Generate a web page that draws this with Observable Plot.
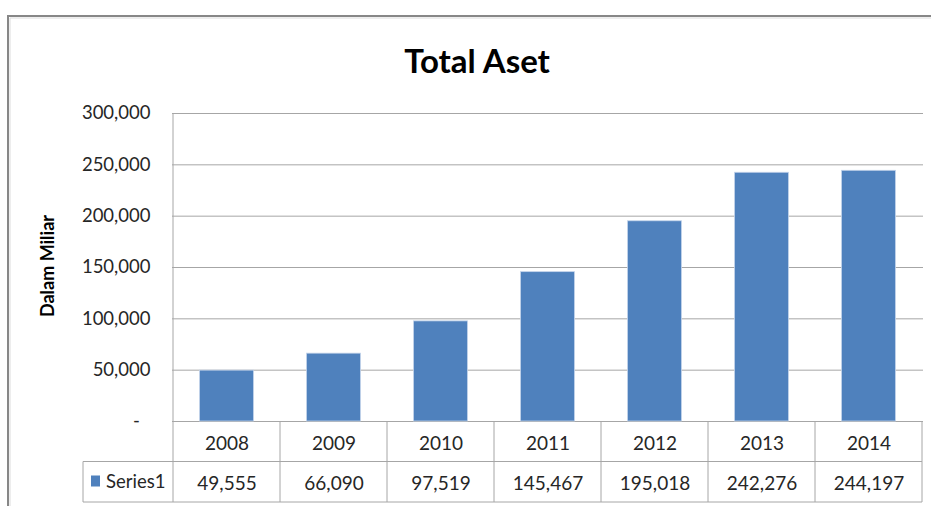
<!DOCTYPE html>
<html>
<head>
<meta charset="utf-8">
<script src="https://cdn.jsdelivr.net/npm/d3@7"></script>
<script src="https://cdn.jsdelivr.net/npm/@observablehq/plot@0.6"></script>
<style>
  html, body { margin: 0; padding: 0; background: #fff; }
</style>
</head>
<body>
<div id="chart"></div>
<script>
const years = ["2008", "2009", "2010", "2011", "2012", "2013", "2014"];
const values = [49555, 66090, 97519, 145467, 195018, 242276, 244197];
const yTicks = [0, 50000, 100000, 150000, 200000, 250000, 300000];
const seriesName = "Series1";
const titleText = "Total Aset";
const yLabelText = "Dalam Miliar";

const data = years.map((year, i) => ({year, value: values[i]}));
const fmt = d3.format(",");
const W = 931, H = 506;
const ML = 172, MR = 8, MT = 113, MB = 85;
const gridColor = "#a6a6a6";
const textColor = "#262626";
const barColor = "#4F81BD";

const plot = Plot.plot({
  width: W,
  height: H,
  marginLeft: ML,
  marginRight: MR,
  marginTop: MT,
  marginBottom: MB,
  style: {fontFamily: "Lato, 'Open Sans', sans-serif", fontSize: "18.5px", color: textColor, background: "white", overflow: "visible"},
  x: {domain: years, padding: 0, axis: null},
  y: {
    domain: [0, 300000],
    ticks: yTicks,
    tickFormat: d => d === 0 ? "-\u2007" : fmt(d),
    tickSize: 0,
    tickPadding: 22,
    label: null,
    line: false
  },
  marks: [
    Plot.ruleY(yTicks, {stroke: gridColor, strokeWidth: 1}),
    Plot.barY(data, {x: "year", y: "value", fill: barColor, stroke: "#c4d4ea", strokeWidth: 0.8, insetLeft: 26.5, insetRight: 26.5}),
    Plot.text(data, {x: "year", text: "year", frameAnchor: "bottom", dy: 22, lineAnchor: "middle", fill: textColor, fontSize: 19}),
    Plot.text(data, {x: "year", text: d => fmt(d.value), frameAnchor: "bottom", dy: 62, lineAnchor: "middle", fill: textColor, fontSize: 19})
  ]
});

document.getElementById("chart").appendChild(plot);

const svg = d3.select(plot);
const xs = plot.scale("x");
const ys = plot.scale("y");
const bw = xs.bandwidth;
const left = xs.apply(years[0]);
const right = xs.apply(years[years.length - 1]) + bw;
const y0 = ys.apply(0);
const yTop = ys.apply(300000);
const rowH = 40.5;

const g = svg.append("g").attr("fill", "none").attr("stroke", gridColor).attr("stroke-width", 1);
// plot-area left edge
g.append("line").attr("x1", left).attr("x2", left).attr("y1", yTop).attr("y2", y0 + 2 * rowH);
// table vertical lines
years.forEach((yr, i) => {
  const xr = xs.apply(yr) + bw;
  g.append("line").attr("x1", xr).attr("x2", xr).attr("y1", y0).attr("y2", y0 + 2 * rowH);
});
// table horizontal lines
const legendLeft = 83;
g.append("line").attr("x1", legendLeft).attr("x2", right).attr("y1", y0 + rowH).attr("y2", y0 + rowH);
g.append("line").attr("x1", legendLeft).attr("x2", right).attr("y1", y0 + 2 * rowH).attr("y2", y0 + 2 * rowH);
g.append("line").attr("x1", legendLeft).attr("x2", legendLeft).attr("y1", y0 + rowH).attr("y2", y0 + 2 * rowH);

// legend key
svg.append("rect").attr("x", 91).attr("y", y0 + rowH + 14).attr("width", 9).attr("height", 11).attr("fill", barColor);
svg.append("text").attr("x", 106).attr("y", y0 + rowH + 20).attr("dy", "0.35em").attr("text-anchor", "start")
  .attr("font-family", "Lato, sans-serif").attr("font-size", 18.5).attr("fill", textColor).text(seriesName);

// title
svg.append("text").attr("x", 477).attr("y", 73).attr("text-anchor", "middle")
  .attr("font-family", "Lato, sans-serif").attr("font-weight", "bold").attr("font-size", 33).attr("fill", "#000").text(titleText);

// y label
svg.append("text").attr("transform", `translate(54,${(yTop + y0) / 2 - 1}) rotate(-90)`).attr("text-anchor", "middle")
  .attr("font-family", "Lato, sans-serif").attr("font-weight", "bold").attr("font-size", 18).attr("fill", "#000").text(yLabelText);

// outer chart border (top and left visible)
svg.append("path").attr("d", `M8,${H} L8,16 L${W},16`).attr("fill", "none").attr("stroke", "#878787").attr("stroke-width", 2);
svg.append("path").attr("d", `M10,${H} L10,18 L${W},18`).attr("fill", "none").attr("stroke", "#dcdcdc").attr("stroke-width", 1);
</script>
</body>
</html>
